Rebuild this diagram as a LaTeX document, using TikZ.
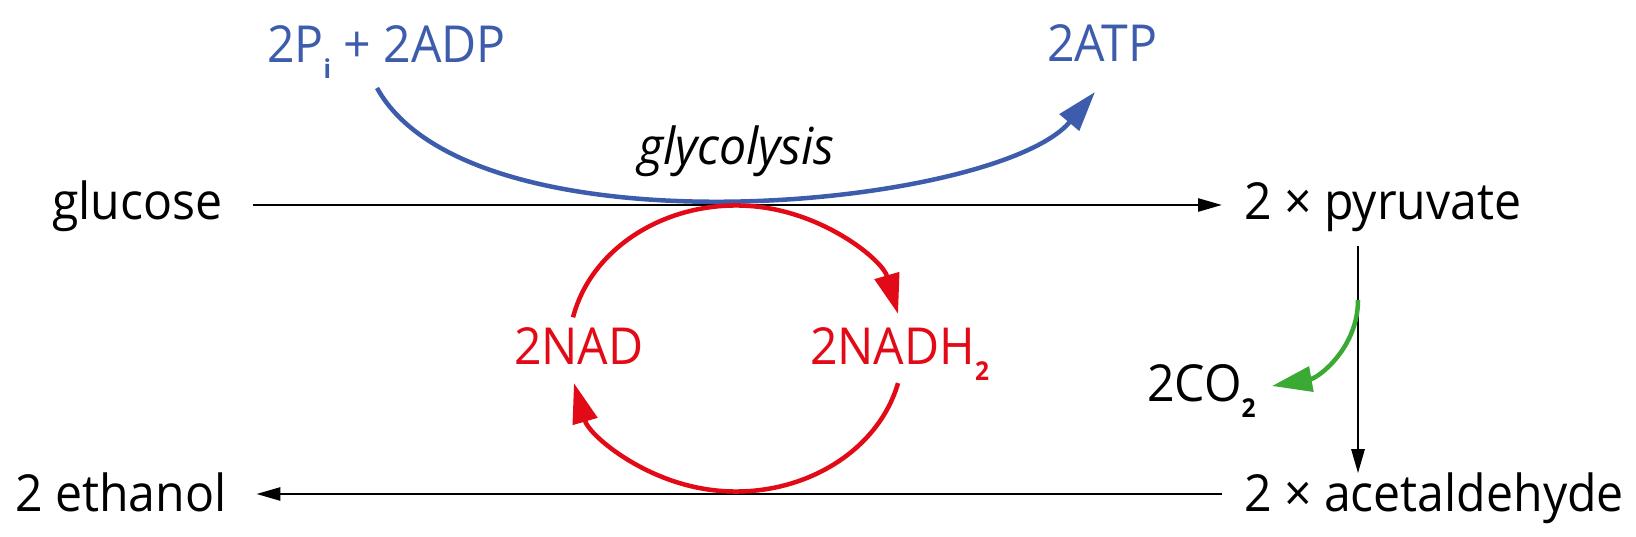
\documentclass[tikz,border=0pt]{standalone}
\usepackage{fontspec}
\setmainfont{Open Sans}[FakeStretch=0.945]
\usetikzlibrary{arrows.meta}
\definecolor{bl}{RGB}{61,92,172}
\definecolor{rd}{RGB}{227,10,23}
\definecolor{gn}{RGB}{58,170,53}
\newcommand{\subx}[1]{\raisebox{-16pt}{\fontsize{26pt}{26pt}\selectfont\bfseries #1}}
\begin{document}
\begin{tikzpicture}[x=1pt,y=1pt,
  lbl/.style={inner sep=0pt, outer sep=0pt, anchor=base west, font=\fontsize{51pt}{51pt}\selectfont},
  blk/.style={draw=black, line width=2.6pt, -{Triangle[length=24pt,width=13pt]}},
  blu/.style={draw=bl, line width=4.5pt, -{Triangle[length=40pt,width=25pt]}},
  red1/.style={draw=rd, line width=4.5pt, -{Triangle[length=40pt,width=25pt]}},
  grn/.style={draw=gn, line width=4.5pt, -{Triangle[length=40pt,width=25pt]}}]
\useasboundingbox (0,0) rectangle (1636,537);
% labels
\node[lbl] (glucose) at (52,317) {glucose};
\node[lbl] (pyruvate) at (1244,317) {2 × pyruvate};
\node[lbl] (ethanol) at (15,25) {2 ethanol};
\node[lbl] (acet) at (1244,25) {2 × acetaldehyde};
\node[lbl, text=bl] (adp) at (267,474) {2P\subx{i} + 2ADP};
\node[lbl, text=bl] (atp) at (1047,475) {2ATP};
\node[lbl, font=\fontsize{51pt}{51pt}\selectfont\itshape] (glyc) at (638,372) {glycolysis};
\node[lbl, text=rd] (nad) at (514,172) {2NAD};
\node[lbl, text=rd] (nadh) at (810,172) {2NADH\subx{2}};
\node[lbl] (co2) at (1147,135) {2CO\subx{2}};
% main reaction arrows
\draw[blk, shorten <=31pt, shorten >=22pt] ([yshift=15pt]glucose.base east) -- ([yshift=15pt]pyruvate.base west);
\draw[blk, shorten <=22pt, shorten >=30pt] ([yshift=18pt]acet.base west) -- ([yshift=18pt]ethanol.base east);
\coordinate (vx) at (1358,0);
\draw[blk, shorten <=14pt, shorten >=0pt] (pyruvate.south -| vx) -- (acet.north -| vx);
% glycolysis ATP arc
\coordinate (b0) at (377,449);
\coordinate (b1) at (1095,445);
\draw[blu] (b0) .. controls (472,277.5) and (997,328.6) .. (b1);
% NAD cycle
\coordinate (c) at (736,188.5);
\draw[red1] ([shift={(167.4:167pt and 143pt)}]c) arc[start angle=167.4, end angle=14, x radius=167pt, y radius=143pt];
\draw[red1] ([shift={(-14:167pt and 143pt)}]c) arc[start angle=-14, end angle=-166, x radius=167pt, y radius=143pt];
% CO2 release
\coordinate (g0) at (1358,237);
\coordinate (g1) at (1272,151);
\draw[grn] (g0) to[out=-90,in=10] (g1);
\end{tikzpicture}
\end{document}
